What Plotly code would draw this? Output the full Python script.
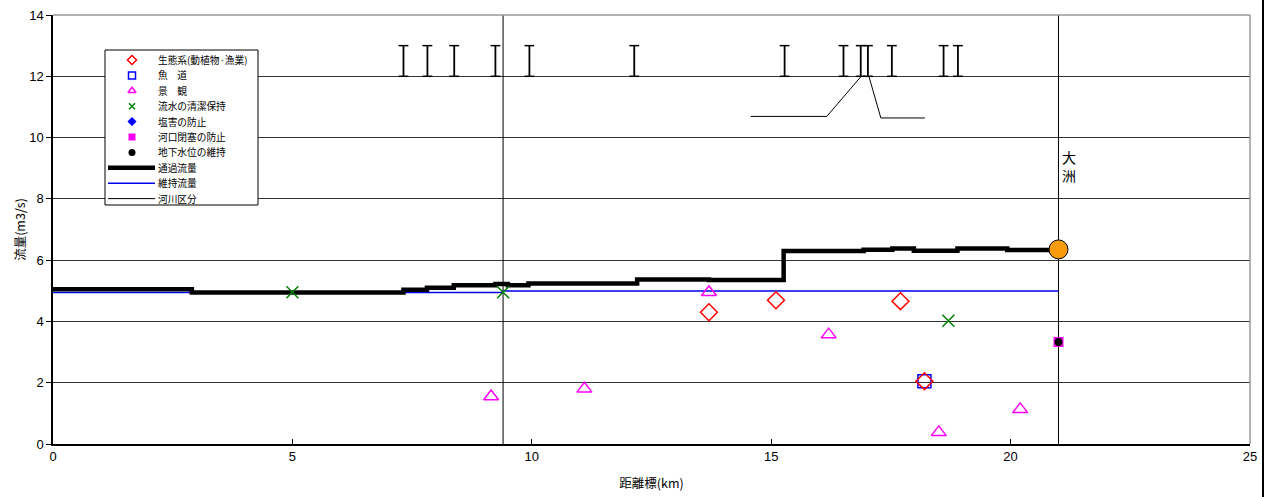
import plotly.graph_objects as go

# ---------------- data ----------------
# 通過流量 (step line): breakpoints (km) and flow values (m3/s)
pass_x = [0, 2.9, 7.32, 7.81, 8.37, 9.24, 9.5, 9.93, 12.2, 13.7, 15.26, 16.93, 17.53, 17.98, 18.89, 19.93, 21.0]
pass_y = [5.05, 4.94, 5.03, 5.10, 5.18, 5.22, 5.18, 5.24, 5.37, 5.35, 6.30, 6.34, 6.38, 6.31, 6.38, 6.33, 6.33]

# 維持流量
maint_x = [0, 9.4, 21.0]
maint_y = [4.94, 4.99, 4.99]

# 河川区分 (division lines)
division_km = [9.4, 21.0]
axis_y_max = 14

# 生態系(動植物·漁業)
eco_x = [13.7, 15.1, 17.7, 18.2]
eco_y = [4.30, 4.69, 4.66, 2.05]
# 魚道
fish_x = [18.2]
fish_y = [2.05]
# 景観
scene_x = [9.15, 11.1, 13.7, 16.2, 18.5, 20.2]
scene_y = [1.55, 1.80, 4.95, 3.57, 0.38, 1.13]
# 流水の清潔保持
clean_x = [5.0, 9.4, 18.7]
clean_y = [4.95, 4.95, 4.02]
# 塩害の防止 (no data)
salt_x = []
salt_y = []
# 河口閉塞の防止
mouth_x = [21.0]
mouth_y = [3.33]
# 地下水位の維持
ground_x = [21.0]
ground_y = [3.33]

# 大洲 reference point
ozu_x = [21.0]
ozu_y = [6.35]

# inflow / withdrawal points (I-bars between 12 and 13)
inflow_km = [7.32, 7.82, 8.38, 9.24, 9.95, 12.14, 15.28, 16.51, 16.87, 17.02, 17.52, 18.6, 18.9]
bar_low, bar_high = 12, 13

# leader lines
leader1_x = [14.57, 16.16, 16.88]
leader1_y = [10.69, 10.69, 12.0]
leader2_x = [17.04, 17.29, 18.21]
leader2_y = [12.0, 10.64, 10.64]

legend_names = ["生態系(動植物·漁業)", "魚　道", "景　観", "流水の清潔保持", "塩害の防止",
                "河口閉塞の防止", "地下水位の維持", "通過流量", "維持流量", "河川区分"]

x_ticks = [0, 5, 10, 15, 20, 25]
y_ticks = [0, 2, 4, 6, 8, 10, 12, 14]

# ---------------- layout geometry ----------------
W, H = 1266, 497
PL, PR, PT, PB = 53, 1250, 15, 444   # plot area in pixels
XMAX, YMAX = 25, 14
JP = "Noto Sans CJK JP"


def kx(px):
    return (px - PL) / (PR - PL) * XMAX


def vy(py):
    return (PB - py) / (PB - PT) * YMAX


fig = go.Figure()

# division lines
dx, dy = [], []
for k in division_km:
    dx += [k, k, None]
    dy += [0, axis_y_max, None]
fig.add_trace(go.Scatter(x=dx, y=dy, mode="lines", name="河川区分", showlegend=False,
                         line=dict(color="black", width=1)))

# I-bars
bx, by = [], []
for k in inflow_km:
    bx += [k, k, None]
    by += [bar_low, bar_high, None]
fig.add_trace(go.Scatter(x=bx, y=by, mode="lines+markers", showlegend=False,
                         line=dict(color="black", width=1.8),
                         marker=dict(symbol="line-ew", size=7, line=dict(color="black", width=1.5))))
fig.add_trace(go.Scatter(x=leader1_x, y=leader1_y, mode="lines", showlegend=False,
                         line=dict(color="black", width=1)))
fig.add_trace(go.Scatter(x=leader2_x, y=leader2_y, mode="lines", showlegend=False,
                         line=dict(color="black", width=1)))

# flow lines
fig.add_trace(go.Scatter(x=maint_x, y=maint_y, mode="lines", name="維持流量", line_shape="hv",
                         showlegend=False, line=dict(color="#0000ee", width=1.5)))
fig.add_trace(go.Scatter(x=pass_x, y=pass_y, mode="lines", name="通過流量", line_shape="hv",
                         showlegend=False, line=dict(color="black", width=4.5)))


def data_marker(xs, ys, symbol, color, size, lw=1.5, line_color=None):
    fig.add_trace(go.Scatter(
        x=xs, y=ys, mode="markers", showlegend=False,
        marker=dict(symbol=symbol, size=size, color=color,
                    line=dict(color=line_color or color, width=lw))))


data_marker(scene_x, scene_y, "triangle-up-open", "magenta", 13)
data_marker(clean_x, clean_y, "x-thin-open", "green", 12)
data_marker(fish_x, fish_y, "square-open", "blue", 13)
data_marker(eco_x, eco_y, "diamond-open", "red", 13)
data_marker(salt_x, salt_y, "diamond", "blue", 8, lw=0)
data_marker(mouth_x, mouth_y, "square", "magenta", 10, lw=0)
data_marker(ground_x, ground_y, "circle", "black", 8, lw=0)
data_marker(ozu_x, ozu_y, "circle", "#f89c0e", 19, lw=1, line_color="black")

fig.add_annotation(x=21.22, y=9.07, text="大<br>洲", showarrow=False,
                   font=dict(family=JP, size=14, color="black"))

# ---------------- manual legend ----------------
LG_L, LG_R, LG_T, LG_B = 105, 258, 50, 205
fig.add_shape(type="rect", xref="x", yref="y", x0=kx(LG_L), x1=kx(LG_R), y0=vy(LG_T), y1=vy(LG_B),
              line=dict(color="black", width=1), fillcolor="white", layer="between")
row_y = [60 + 15.4 * i for i in range(len(legend_names))]
marker_specs = [
    ("diamond-open", "red", 7),
    ("square-open", "blue", 7),
    ("triangle-up-open", "magenta", 7),
    ("x-thin-open", "green", 6),
    ("diamond", "blue", 7),
    ("square", "magenta", 7),
    ("circle", "black", 7),
]
for i, (sym, col, sz) in enumerate(marker_specs):
    fig.add_trace(go.Scatter(x=[kx(132)], y=[vy(row_y[i])], mode="markers", showlegend=False,
                             hoverinfo="skip",
                             marker=dict(symbol=sym, size=sz, color=col,
                                         line=dict(color=col, width=1.5 if "open" in sym else 0))))
line_specs = [("black", 4.5), ("#0000ee", 1.5), ("black", 1)]
for j, (col, w) in enumerate(line_specs):
    i = 7 + j
    fig.add_shape(type="line", xref="x", yref="y", x0=kx(108), x1=kx(155),
                  y0=vy(row_y[i]), y1=vy(row_y[i]), line=dict(color=col, width=w), layer="above")
for i, name in enumerate(legend_names):
    fig.add_annotation(x=kx(156), y=vy(row_y[i]), text=name, showarrow=False, xanchor="left",
                       yanchor="middle", font=dict(family=JP, size=9.7, color="black"))

# plot border (top/right gray), figure border line on far right
fig.add_shape(type="line", xref="paper", yref="paper", x0=0, x1=1, y0=1, y1=1,
              line=dict(color="#999999", width=1.5))
fig.add_shape(type="line", xref="paper", yref="paper", x0=1, x1=1, y0=0, y1=1,
              line=dict(color="#999999", width=1.5))
fig.add_shape(type="line", xref="paper", yref="paper",
              x0=(1263 - PL) / (PR - PL), x1=(1263 - PL) / (PR - PL),
              y0=-(H - PB) / (PB - PT), y1=1 + PT / (PB - PT), line=dict(color="black", width=2))

fig.update_layout(
    width=W, height=H,
    margin=dict(l=PL, r=W - PR, t=PT, b=H - PB, autoexpand=False),
    paper_bgcolor="white", plot_bgcolor="white",
    font=dict(family="Liberation Sans, Arial", size=12, color="black"),
    showlegend=False,
    xaxis=dict(range=[0, XMAX], tickvals=x_ticks, ticks="inside", ticklen=5, tickcolor="black",
               showgrid=False, zeroline=False, showline=True, linecolor="black", linewidth=1.5,
               automargin=False,
               title=dict(text="距離標(km)", font=dict(family=JP, size=12.5), standoff=16),
               tickfont=dict(family="Liberation Sans", size=13)),
    yaxis=dict(range=[0, YMAX], tickvals=y_ticks, ticks="outside", ticklen=5, tickcolor="black",
               showgrid=True, gridcolor="#333333", gridwidth=1, zeroline=False,
               showline=True, linecolor="black", linewidth=1.5, automargin=False,
               title=dict(text="流量(m3/s)", font=dict(family=JP, size=12.5), standoff=1),
               tickfont=dict(family="Liberation Sans", size=13)),
)

fig.write_html("out.html", config={"displayModeBar": False},
               post_script="document.body.style.margin='0';")
